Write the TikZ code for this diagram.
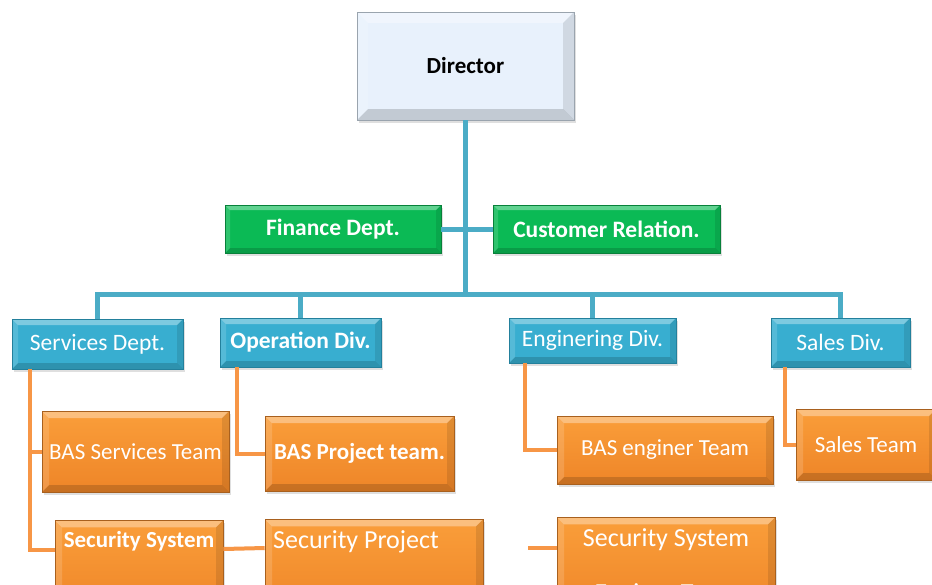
\documentclass[tikz,border=0pt]{standalone}
\usepackage{fontspec}
\setmainfont{Carlito}
\usetikzlibrary{shadows}

\definecolor{dirfill}{HTML}{E8F1FC}
\definecolor{dirline}{HTML}{9AA4AE}
\definecolor{greenfill}{HTML}{0BBA55}
\definecolor{greenline}{HTML}{08803A}
\definecolor{bluefill}{HTML}{38AED0}
\definecolor{blueline}{HTML}{23809C}
\definecolor{orangetop}{HTML}{FA9E3A}
\definecolor{orangebot}{HTML}{EE8528}
\definecolor{orangeline}{HTML}{A8601E}
\definecolor{linkblue}{HTML}{4BACC6}
\definecolor{linkorange}{HTML}{F79646}

% bevelled look of the boxes
\tikzset{bevel/.style={path picture={
  \def\pb{path picture bounding box}
  \fill[white,opacity=.35] (\pb.north west) -- (\pb.north east)
     -- ([xshift=-#1,yshift=-#1]\pb.north east) -- ([xshift=#1,yshift=-#1]\pb.north west) -- cycle;
  \fill[black,opacity=.16] (\pb.south west) -- (\pb.south east)
     -- ([xshift=-#1,yshift=#1]\pb.south east) -- ([xshift=#1,yshift=#1]\pb.south west) -- cycle;
  \fill[white,opacity=.15] (\pb.north west) -- (\pb.south west)
     -- ([xshift=#1,yshift=#1]\pb.south west) -- ([xshift=#1,yshift=-#1]\pb.north west) -- cycle;
  \fill[black,opacity=.10] (\pb.north east) -- (\pb.south east)
     -- ([xshift=-#1,yshift=#1]\pb.south east) -- ([xshift=-#1,yshift=-#1]\pb.north east) -- cycle;
}}}

\begin{document}
\begin{tikzpicture}[x=1pt,y=-1pt]
        \tikzstyle{unit}=[rectangle,inner sep=0pt,line width=0.6pt,
                          drop shadow={shadow xshift=1.5pt,shadow yshift=-3pt,opacity=.25}]
        \tikzstyle{director}=[unit,fill=dirfill,draw=dirline,bevel=11pt,
                              font=\fontsize{23}{27}\selectfont\bfseries]
        \tikzstyle{staff}=[unit,fill=greenfill,draw=greenline,bevel=5pt,text=white,
                           font=\fontsize{23.5}{28}\selectfont\bfseries]
        \tikzstyle{division}=[unit,fill=bluefill,draw=blueline,bevel=6pt,text=white,
                              font=\fontsize{23.5}{28}\selectfont]
        \tikzstyle{team}=[unit,top color=orangetop,bottom color=orangebot,draw=orangeline,
                          bevel=7pt,text=white,font=\fontsize{23}{28}\selectfont]
        \tikzstyle{subteam}=[team,anchor=north,align=center,inner ysep=11pt,
                             font=\fontsize{26}{31}\selectfont]
        \tikzstyle{bluelink}=[draw=linkblue,line width=5pt]
        \tikzstyle{orangelink}=[draw=linkorange,line width=4pt]

        \useasboundingbox (0,0) rectangle (932,584);
        \fill[white] (0,0) rectangle (932,584);
        \clip (0,0) rectangle (932,584);

        % top
        \node [director,minimum width=217,minimum height=108] (dir) at (465.5,66) {Director};
        \node [staff,minimum width=216,minimum height=48] (fin) at (333,229) {Finance Dept.};
        \node [staff,minimum width=227,minimum height=48] (cust) at (606.5,229) {Customer Relation.};

        % divisions
        \node [division,minimum width=171,minimum height=50] (svc) at (97.5,344) {Services Dept.};
        \node [division,minimum width=161,minimum height=49,font=\fontsize{23.5}{28}\selectfont\bfseries] (ops) at (300.5,342.5) {Operation Div.};
        \node [division,minimum width=167,minimum height=45] (eng) at (592.5,340.5) {Enginering Div.};
        \node [division,minimum width=139,minimum height=49] (sal) at (840.5,342.5) {Sales Div.};

        % teams
        \node [team,minimum width=187,minimum height=81] (bassvc) at (135.5,451.5) {BAS Services Team};
        \node [team,minimum width=189,minimum height=75,font=\fontsize{23}{28}\selectfont\bfseries] (basprj) at (359.5,453.5) {BAS Project team.};
        \node [team,minimum width=216,minimum height=68] (baseng) at (665,450) {BAS enginer Team};
        \node [team,minimum width=140,minimum height=71] (salteam) at (866,444.5) {Sales Team};

        \node [subteam,minimum width=168,font=\fontsize{23}{28}\selectfont\bfseries] (secsvc) at (139,520) {Security System\\[27pt]Services Team};
        \node [subteam,minimum width=218] (secprj) at (374,519) {Security Project\hspace*{36pt}\\[24pt]Team};
        \node [subteam,minimum width=218] (seceng) at (666,517) {Security System\\[24pt]Enginer Team};

        \coordinate (bus) at (465.5,295);
        \coordinate (stub) at (528,548);

        % blue links
        \path[bluelink] (dir.south) -- (bus);
        \path[bluelink] (fin.east) -- (cust.west);
        \path[bluelink] (svc.north) -- ++(0,-24) -| (sal.north);
        \path[bluelink] (ops.north) -- (ops.north |- bus);
        \path[bluelink] (eng.north) -- (eng.north |- bus);

        % orange links
        \path[orangelink] ([xshift=18pt]svc.south west) |- (bassvc.west);
        \path[orangelink] ([xshift=18pt]svc.south west) |- ([yshift=-30pt]secsvc.north west);
        \path[orangelink] ([yshift=-29pt]secsvc.north east) -- ([yshift=-29pt]secprj.north west);
        \path[orangelink] ([xshift=17pt]ops.south west) |- (basprj.west);
        \path[orangelink] ([xshift=16pt]eng.south west) |- (baseng.west);
        \path[orangelink] ([xshift=14pt]sal.south west) |- (salteam.west);
        \path[orangelink] (stub) -- (stub -| seceng.west);
\end{tikzpicture}
\end{document}
